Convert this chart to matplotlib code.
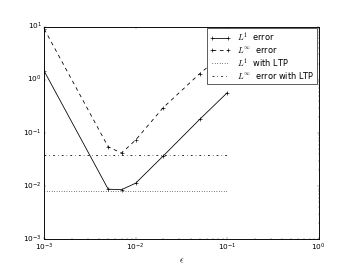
import numpy as np
import matplotlib
matplotlib.use('Agg')
import matplotlib.pyplot as plt

plt.style.use('classic')
plt.rcParams['lines.linewidth'] = 1.3
plt.rcParams['axes.linewidth'] = 1.5
plt.rcParams['lines.markersize'] = 6
plt.rcParams['lines.markeredgewidth'] = 1.0

# data
eps = [0.001, 0.005, 0.007, 0.01, 0.02, 0.05, 0.1]
err_l1 = [1.45, 0.0088, 0.0086, 0.0114, 0.037, 0.18, 0.57]
err_linf = [9.0, 0.055, 0.042, 0.074, 0.3, 1.3, 3.5]
ltp_l1 = 0.0082
ltp_linf = 0.039
ltp_range = [0.001, 0.1]

fig = plt.figure(figsize=(8, 266 / 44.25), dpi=44.25)
ax = fig.add_subplot(111)

ax.loglog(eps, err_l1, 'k-+', label=r'$L^1$  error')
ax.loglog(eps, err_linf, 'k--+', label=r'$L^\infty$  error')
ax.loglog(ltp_range, [ltp_l1, ltp_l1], 'k:', label=r'$L^1$  with LTP')
ax.loglog(ltp_range, [ltp_linf, ltp_linf], 'k-.', label=r'$L^\infty$  error with LTP')

ax.set_xlim(1e-3, 1)
ax.set_ylim(1e-3, 10)
ax.set_xlabel(r'$\epsilon$', fontsize=15)
ax.tick_params(labelsize=12)
ax.legend(loc='upper right', fontsize=13.5, borderaxespad=0.15,
          handlelength=2.6, labelspacing=0.15, borderpad=0.3)

fig.savefig('out.png', dpi=44.25)
